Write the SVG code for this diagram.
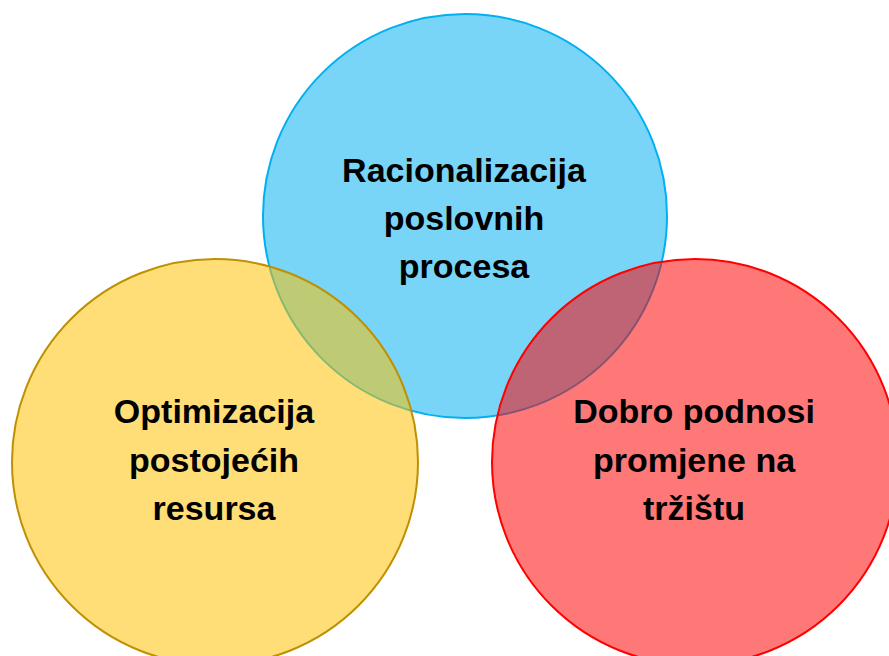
<svg xmlns="http://www.w3.org/2000/svg" width="889" height="656" viewBox="0 0 889 656">
<style>
.c{stroke-width:2}
.t{font-family:"Liberation Sans",Arial,sans-serif;font-weight:bold;font-size:34px;fill:#000;text-anchor:middle}
</style>
<rect width="889" height="656" fill="#fff"/>
<g id="blue">
<circle class="c" cx="465" cy="216" r="202" fill="#00B0F0" fill-opacity="0.53" stroke="#00B0F0"/>
<text class="t" x="464" y="182">Racionalizacija</text>
<text class="t" x="464" y="230">poslovnih</text>
<text class="t" x="464" y="278">procesa</text>
</g>
<g id="yellow">
<circle class="c" cx="215" cy="462" r="203" fill="#FFC000" fill-opacity="0.53" stroke="#BF9000"/>
<text class="t" x="214" y="423">Optimizacija</text>
<text class="t" x="214" y="472">postojećih</text>
<text class="t" x="214" y="520">resursa</text>
</g>
<g id="red">
<circle class="c" cx="695" cy="462" r="203" fill="#FF0000" fill-opacity="0.53" stroke="#FF0000"/>
<text class="t" x="694" y="423">Dobro podnosi</text>
<text class="t" x="694" y="472">promjene na</text>
<text class="t" x="694" y="520">tržištu</text>
</g>
<g id="connectors"/>
</svg>
